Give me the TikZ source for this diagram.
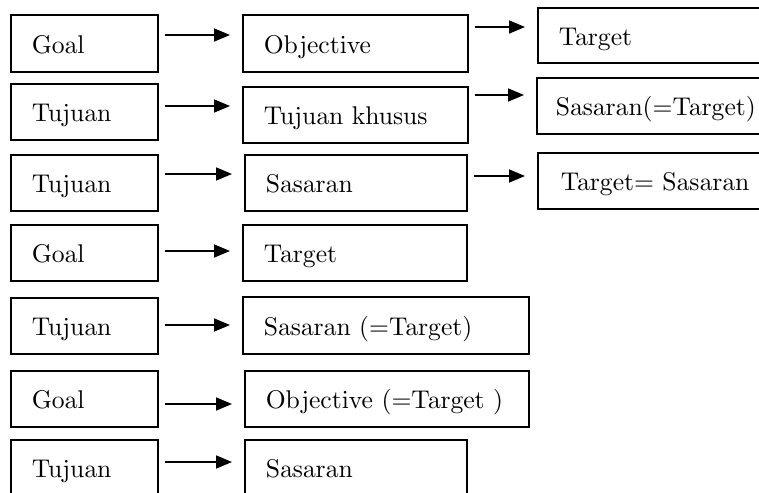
\documentclass[tikz,border=0pt]{standalone}
\usetikzlibrary{arrows.meta}
\font\boxfont=cmr10 at 25.6pt
\begin{document}
\begin{tikzpicture}[x=1pt,y=-1pt,
  box/.style={draw, line width=1.6pt, rectangle, anchor=north west, inner xsep=21pt, inner ysep=0pt,
    align=left, font=\boxfont, text height=24pt, text depth=4pt},
  arr/.style={line width=1.6pt, -{Triangle[length=16pt,width=13pt]}, shorten <=6pt, shorten >=12pt}]
\useasboundingbox (0,0) rectangle (759,492);
\newcommand\bx[7][21]{\pgfmathsetmacro\tw{#5-2*#1}%
  \node[box, inner xsep=#1pt, minimum width=#5pt, minimum height=#6pt, text width=\tw pt] (#2) at (#3,#4) {\mbox{#7}};}
\bx{g1}{10}{14}{147}{57}{Goal}
\bx{o1}{242}{14}{225}{57}{Objective}
\bx{t1}{537}{7}{263}{55}{Target}
\bx{u2}{10}{83}{147}{56}{Tujuan}
\bx{k2}{242}{86}{225}{56}{Tujuan khusus}
\bx[19]{s2}{536}{77}{264}{56}{Sasaran(=Target)}
\bx{u3}{10}{154}{147}{56}{Tujuan}
\bx{s3}{244}{154}{222}{56}{Sasaran}
\bx[23]{t3}{537}{152}{263}{56}{Target= Sasaran}
\bx{g4}{10}{224}{147}{56}{Goal}
\bx{t4}{242}{224}{224}{56}{Target}
\bx{u5}{10}{297}{147}{56}{Tujuan}
\bx{s5}{242}{296}{286}{57}{Sasaran (=Target)}
\bx{g6}{10}{370}{147}{56}{Goal}
\bx{o6}{244}{370}{284}{56}{Objective (=Target )}
\bx{u7}{10}{439}{147}{56}{Tujuan}
\bx{s7}{244}{439}{222}{56}{Sasaran}
\draw[arr] (g1.east |- 0,35) -- (o1.west |- 0,35);
\draw[arr] (o1.east |- 0,27) -- (t1.west |- 0,27);
\draw[arr] (u2.east |- 0,106) -- (k2.west |- 0,106);
\draw[arr] (k2.east |- 0,95) -- (s2.west |- 0,95);
\draw[arr] (u3.east |- 0,174) -- (s3.west |- 0,174);
\draw[arr] (s3.east |- 0,176) -- (t3.west |- 0,176);
\draw[arr] (g4.east |- 0,251) -- (t4.west |- 0,251);
\draw[arr] (u5.east |- 0,325) -- (s5.west |- 0,325);
\draw[arr] (g6.east |- 0,404) -- (o6.west |- 0,404);
\draw[arr] (u7.east |- 0,462) -- (s7.west |- 0,462);
\end{tikzpicture}
\end{document}
